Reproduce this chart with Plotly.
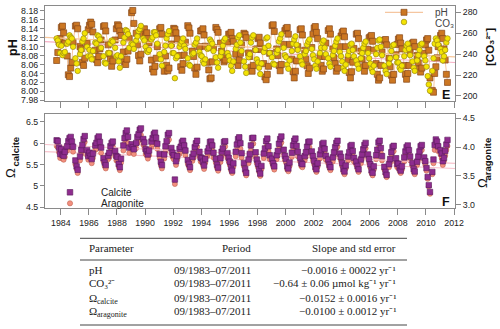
import datetime
import plotly.graph_objects as go

# ---------------------------------------------------------------- data
# cruise dates (roughly monthly sampling)
sample_dates = [
    "1983-09-15", "1983-10-15", "1983-11-15", "1983-12-15",
    "1984-01-15", "1984-02-15", "1984-03-15", "1984-04-15", "1984-06-15", "1984-07-15", "1984-08-15", "1984-09-15", "1984-10-15", "1984-11-15",
    "1985-01-15", "1985-02-15", "1985-03-15", "1985-05-15", "1985-06-15", "1985-07-15", "1985-08-15", "1985-09-15", "1985-11-15", "1985-12-15",
    "1986-01-15", "1986-02-15", "1986-03-15", "1986-04-15", "1986-06-15", "1986-07-15", "1986-08-15", "1986-09-15", "1986-10-15", "1986-11-15",
    "1987-01-15", "1987-02-15", "1987-03-15", "1987-05-15", "1987-06-15", "1987-07-15", "1987-08-15", "1987-09-15", "1987-11-15", "1987-12-15",
    "1988-01-15", "1988-02-15", "1988-03-15", "1988-04-15", "1988-06-15", "1988-07-15", "1988-08-15", "1988-09-15", "1988-10-15", "1988-11-15",
    "1989-01-15", "1989-02-15", "1989-03-15", "1989-05-15", "1989-06-15", "1989-07-15", "1989-08-15", "1989-09-15", "1989-11-15", "1989-12-15",
    "1990-01-15", "1990-02-15", "1990-03-15", "1990-04-15", "1990-06-15", "1990-07-15", "1990-08-15", "1990-09-15", "1990-10-15", "1990-11-15",
    "1991-01-15", "1991-02-15", "1991-03-15", "1991-05-15", "1991-06-15", "1991-07-15", "1991-08-15", "1991-09-15", "1991-11-15", "1991-12-15",
    "1992-01-15", "1992-02-15", "1992-03-15", "1992-04-15", "1992-06-15", "1992-07-15", "1992-08-15", "1992-09-15", "1992-10-15", "1992-11-15",
    "1993-01-15", "1993-02-15", "1993-03-15", "1993-05-15", "1993-06-15", "1993-07-15", "1993-08-15", "1993-09-15", "1993-11-15", "1993-12-15",
    "1994-01-15", "1994-02-15", "1994-03-15", "1994-04-15", "1994-06-15", "1994-07-15", "1994-08-15", "1994-09-15", "1994-10-15", "1994-11-15",
    "1995-01-15", "1995-02-15", "1995-03-15", "1995-05-15", "1995-06-15", "1995-07-15", "1995-08-15", "1995-09-15", "1995-11-15", "1995-12-15",
    "1996-01-15", "1996-02-15", "1996-03-15", "1996-04-15", "1996-06-15", "1996-07-15", "1996-08-15", "1996-09-15", "1996-10-15", "1996-11-15",
    "1997-01-15", "1997-02-15", "1997-03-15", "1997-05-15", "1997-06-15", "1997-07-15", "1997-08-15", "1997-09-15", "1997-11-15", "1997-12-15",
    "1998-01-15", "1998-02-15", "1998-03-15", "1998-04-15", "1998-06-15", "1998-07-15", "1998-08-15", "1998-09-15", "1998-10-15", "1998-11-15",
    "1999-01-15", "1999-02-15", "1999-03-15", "1999-05-15", "1999-06-15", "1999-07-15", "1999-08-15", "1999-09-15", "1999-11-15", "1999-12-15",
    "2000-01-15", "2000-02-15", "2000-03-15", "2000-04-15", "2000-06-15", "2000-07-15", "2000-08-15", "2000-09-15", "2000-10-15", "2000-11-15",
    "2001-01-15", "2001-02-15", "2001-03-15", "2001-05-15", "2001-06-15", "2001-07-15", "2001-08-15", "2001-09-15", "2001-11-15", "2001-12-15",
    "2002-01-15", "2002-02-15", "2002-03-15", "2002-04-15", "2002-06-15", "2002-07-15", "2002-08-15", "2002-09-15", "2002-10-15", "2002-11-15",
    "2003-01-15", "2003-02-15", "2003-03-15", "2003-05-15", "2003-06-15", "2003-07-15", "2003-08-15", "2003-09-15", "2003-11-15", "2003-12-15",
    "2004-01-15", "2004-02-15", "2004-03-15", "2004-04-15", "2004-06-15", "2004-07-15", "2004-08-15", "2004-09-15", "2004-10-15", "2004-11-15",
    "2005-01-15", "2005-02-15", "2005-03-15", "2005-05-15", "2005-06-15", "2005-07-15", "2005-08-15", "2005-09-15", "2005-11-15", "2005-12-15",
    "2006-01-15", "2006-02-15", "2006-03-15", "2006-04-15", "2006-06-15", "2006-07-15", "2006-08-15", "2006-09-15", "2006-10-15", "2006-11-15",
    "2007-01-15", "2007-02-15", "2007-03-15", "2007-05-15", "2007-06-15", "2007-07-15", "2007-08-15", "2007-09-15", "2007-11-15", "2007-12-15",
    "2008-01-15", "2008-02-15", "2008-03-15", "2008-04-15", "2008-06-15", "2008-07-15", "2008-08-15", "2008-09-15", "2008-10-15", "2008-11-15",
    "2009-01-15", "2009-02-15", "2009-03-15", "2009-05-15", "2009-06-15", "2009-07-15", "2009-08-15", "2009-09-15", "2009-11-15", "2009-12-15",
    "2010-01-15", "2010-02-15", "2010-03-15", "2010-04-15", "2010-06-15", "2010-07-15", "2010-08-15", "2010-09-15", "2010-10-15", "2010-11-15",
    "2011-01-15", "2011-02-15", "2011-03-15", "2011-04-15", "2011-05-15", "2011-06-15", "2011-07-15",
]

ph_values = [
    8.069, 8.087, 8.110, 8.118,
    8.143, 8.146, 8.131, 8.108, 8.079, 8.037, 8.033, 8.052, 8.065, 8.110,
    8.146, 8.148, 8.140, 8.100, 8.095, 8.065, 8.058, 8.074, 8.108, 8.138,
    8.148, 8.155, 8.150, 8.133, 8.092, 8.071, 8.064, 8.078, 8.095, 8.115,
    8.145, 8.147, 8.135, 8.104, 8.084, 8.072, 8.056, 8.068, 8.115, 8.140,
    8.149, 8.146, 8.135, 8.125, 8.088, 8.066, 8.060, 8.072, 8.090, 8.118,
    8.176, 8.181, 8.152, 8.130, 8.104, 8.080, 8.068, 8.083, 8.128, 8.140,
    8.124, 8.131, 8.118, 8.109, 8.070, 8.050, 8.043, 8.056, 8.074, 8.100,
    8.140, 8.143, 8.128, 8.045, 8.079, 8.058, 8.046, 8.052, 8.106, 8.130,
    8.141, 8.139, 8.131, 8.117, 8.080, 8.055, 8.047, 8.062, 8.081, 8.110,
    8.147, 8.142, 8.130, 8.090, 8.078, 8.052, 8.038, 8.054, 8.100, 8.135,
    8.136, 8.140, 8.126, 8.101, 8.065, 8.048, 8.028, 8.030, 8.066, 8.098,
    8.143, 8.138, 8.132, 8.108, 8.090, 8.075, 8.066, 8.070, 8.110, 8.128,
    8.128, 8.132, 8.118, 8.112, 8.083, 8.066, 8.058, 8.070, 8.085, 8.104,
    8.130, 8.127, 8.120, 8.086, 8.078, 8.054, 8.045, 8.058, 8.094, 8.095,
    8.118, 8.121, 8.108, 8.094, 8.062, 8.032, 8.026, 8.038, 8.056, 8.085,
    8.147, 8.149, 8.134, 8.095, 8.080, 8.058, 8.046, 8.060, 8.105, 8.136,
    8.141, 8.143, 8.128, 8.105, 8.072, 8.044, 8.030, 8.045, 8.068, 8.100,
    8.138, 8.140, 8.126, 8.092, 8.072, 8.057, 8.040, 8.052, 8.098, 8.128,
    8.142, 8.145, 8.132, 8.118, 8.078, 8.058, 8.045, 8.050, 8.078, 8.108,
    8.136, 8.140, 8.128, 8.095, 8.075, 8.062, 8.045, 8.052, 8.100, 8.124,
    8.132, 8.135, 8.122, 8.100, 8.070, 8.042, 8.030, 8.044, 8.065, 8.096,
    8.128, 8.130, 8.118, 8.090, 8.072, 8.055, 8.045, 8.058, 8.094, 8.120,
    8.122, 8.125, 8.112, 8.092, 8.062, 8.038, 8.025, 8.030, 8.058, 8.088,
    8.114, 8.116, 8.104, 8.074, 8.055, 8.036, 8.025, 8.038, 8.082, 8.105,
    8.117, 8.120, 8.108, 8.095, 8.058, 8.038, 8.027, 8.040, 8.058, 8.086,
    8.108, 8.110, 8.100, 8.080, 8.064, 8.050, 8.043, 8.052, 8.085, 8.104,
    8.115, 8.118, 8.092, 8.030, 8.002, 7.998, 8.040, 8.055, 8.075, 8.100,
    8.125, 8.130, 8.118, 8.095, 8.070, 8.038, 8.020,
]

co3_values = [
    255, 253, 249, 241,
    248, 239, 241, 242, 250, 252, 258, 256, 255, 247,
    236, 231, 224, 240, 244, 252, 255, 260, 247, 238,
    244, 238, 235, 243, 251, 250, 258, 257, 254, 246,
    238, 232, 231, 241, 241, 250, 253, 252, 246, 238,
    239, 233, 227, 238, 251, 256, 263, 262, 259, 246,
    250, 249, 245, 253, 257, 262, 264, 267, 255, 253,
    247, 243, 242, 244, 254, 256, 261, 261, 258, 250,
    240, 235, 229, 242, 248, 255, 259, 262, 248, 241,
    241, 217, 236, 238, 247, 250, 252, 255, 248, 245,
    236, 230, 229, 240, 241, 249, 251, 255, 242, 239,
    238, 233, 231, 235, 245, 246, 254, 252, 250, 243,
    237, 232, 227, 238, 242, 248, 253, 255, 241, 238,
    234, 229, 224, 233, 245, 249, 256, 258, 251, 243,
    233, 228, 222, 237, 240, 251, 256, 258, 244, 235,
    232, 227, 221, 231, 242, 246, 255, 256, 248, 241,
    237, 231, 230, 241, 244, 252, 255, 259, 246, 239,
    237, 230, 226, 234, 243, 250, 254, 257, 249, 244,
    238, 233, 230, 240, 243, 249, 252, 254, 245, 239,
    235, 229, 226, 233, 241, 246, 251, 253, 246, 240,
    236, 231, 228, 239, 243, 248, 252, 255, 242, 238,
    233, 227, 224, 230, 239, 243, 249, 250, 244, 238,
    234, 230, 226, 236, 241, 246, 250, 252, 241, 236,
    231, 226, 223, 229, 240, 246, 253, 254, 247, 239,
    229, 224, 221, 231, 236, 243, 248, 249, 237, 232,
    232, 227, 225, 229, 238, 244, 248, 250, 245, 239,
    233, 227, 224, 234, 239, 244, 249, 250, 238, 234,
    228, 219, 211, 205, 224, 236, 250, 255, 253, 249,
    245, 242, 234, 238, 244, 251, 255,
]

omega_calcite = [
    6.07, 6.05, 5.90, 5.75,
    5.86, 5.73, 5.71, 5.80, 5.93, 6.05, 6.12, 6.15, 6.04, 5.92,
    5.60, 5.46, 5.38, 5.69, 5.85, 5.96, 6.10, 6.17, 5.84, 5.70,
    5.78, 5.71, 5.63, 5.76, 5.95, 6.01, 6.12, 6.16, 6.03, 5.90,
    5.65, 5.55, 5.49, 5.71, 5.78, 5.93, 6.01, 6.04, 5.82, 5.70,
    5.68, 5.52, 5.44, 5.64, 5.95, 6.12, 6.24, 6.30, 6.15, 5.90,
    5.98, 5.91, 5.86, 6.01, 6.15, 6.21, 6.32, 6.35, 6.10, 6.02,
    5.86, 5.81, 5.74, 5.83, 6.04, 6.12, 6.21, 6.25, 6.13, 5.99,
    5.75, 5.57, 5.49, 5.74, 5.93, 6.05, 6.20, 6.24, 5.89, 5.78,
    5.72, 5.15, 5.58, 5.70, 5.87, 5.92, 6.02, 6.06, 5.95, 5.83,
    5.61, 5.52, 5.44, 5.68, 5.76, 5.91, 6.00, 6.06, 5.80, 5.67,
    5.65, 5.57, 5.48, 5.63, 5.81, 5.89, 6.03, 6.04, 5.95, 5.78,
    5.64, 5.50, 5.43, 5.65, 5.80, 5.88, 6.03, 6.05, 5.77, 5.66,
    5.57, 5.44, 5.36, 5.53, 5.80, 5.97, 6.10, 6.14, 6.00, 5.77,
    5.54, 5.40, 5.31, 5.62, 5.75, 5.95, 6.12, 6.13, 5.79, 5.62,
    5.52, 5.39, 5.29, 5.47, 5.76, 5.88, 6.05, 6.11, 5.93, 5.72,
    5.64, 5.53, 5.46, 5.72, 5.82, 5.99, 6.10, 6.16, 5.85, 5.71,
    5.63, 5.46, 5.41, 5.55, 5.78, 5.95, 6.06, 6.11, 5.94, 5.80,
    5.66, 5.54, 5.51, 5.70, 5.79, 5.92, 6.03, 6.04, 5.81, 5.70,
    5.59, 5.45, 5.39, 5.53, 5.74, 5.84, 5.98, 6.01, 5.87, 5.71,
    5.62, 5.50, 5.44, 5.67, 5.79, 5.91, 6.01, 6.06, 5.76, 5.68,
    5.54, 5.40, 5.34, 5.48, 5.69, 5.79, 5.93, 5.96, 5.82, 5.66,
    5.57, 5.47, 5.39, 5.62, 5.74, 5.86, 5.96, 6.01, 5.74, 5.63,
    5.51, 5.37, 5.31, 5.46, 5.72, 5.85, 6.02, 6.06, 5.89, 5.70,
    5.45, 5.33, 5.26, 5.51, 5.63, 5.79, 5.91, 5.94, 5.65, 5.52,
    5.52, 5.42, 5.36, 5.46, 5.67, 5.81, 5.91, 5.95, 5.84, 5.69,
    5.54, 5.40, 5.34, 5.57, 5.69, 5.81, 5.93, 5.96, 5.67, 5.58,
    5.42, 5.21, 5.02, 4.86, 5.33, 5.62, 5.96, 6.09, 6.04, 5.93,
    5.84, 5.76, 5.58, 5.66, 5.82, 5.97, 6.08,
]

omega_aragonite = [
    4.02, 4.00, 3.91, 3.81,
    3.87, 3.80, 3.78, 3.83, 3.94, 4.00, 4.04, 4.08, 3.99, 3.92,
    3.70, 3.62, 3.55, 3.77, 3.88, 3.94, 4.04, 4.09, 3.86, 3.78,
    3.82, 3.79, 3.72, 3.81, 3.95, 3.97, 4.06, 4.07, 4.00, 3.90,
    3.75, 3.67, 3.63, 3.79, 3.82, 3.93, 3.98, 4.01, 3.85, 3.77,
    3.76, 3.66, 3.60, 3.73, 3.94, 4.06, 4.13, 4.16, 4.07, 3.90,
    3.96, 3.91, 3.88, 3.98, 4.07, 4.11, 4.18, 4.21, 4.04, 3.98,
    3.88, 3.85, 3.80, 3.86, 4.00, 4.05, 4.11, 4.14, 4.06, 3.97,
    3.81, 3.69, 3.63, 3.80, 3.93, 4.00, 4.10, 4.13, 3.90, 3.83,
    3.79, 3.36, 3.69, 3.78, 3.88, 3.92, 3.99, 4.01, 3.94, 3.86,
    3.71, 3.66, 3.60, 3.76, 3.81, 3.91, 3.97, 4.01, 3.84, 3.75,
    3.74, 3.69, 3.62, 3.73, 3.85, 3.90, 3.99, 4.00, 3.94, 3.82,
    3.73, 3.64, 3.59, 3.74, 3.84, 3.89, 3.99, 4.01, 3.82, 3.75,
    3.69, 3.60, 3.55, 3.66, 3.84, 3.95, 4.04, 4.06, 3.97, 3.82,
    3.67, 3.57, 3.51, 3.72, 3.81, 3.94, 4.05, 4.06, 3.83, 3.72,
    3.65, 3.57, 3.50, 3.62, 3.81, 3.89, 4.00, 4.04, 3.93, 3.79,
    3.73, 3.66, 3.61, 3.79, 3.85, 3.97, 4.04, 4.08, 3.87, 3.78,
    3.73, 3.61, 3.58, 3.67, 3.83, 3.94, 4.01, 4.04, 3.93, 3.84,
    3.75, 3.67, 3.65, 3.77, 3.83, 3.92, 3.99, 4.00, 3.85, 3.77,
    3.70, 3.61, 3.57, 3.66, 3.80, 3.87, 3.96, 3.98, 3.89, 3.78,
    3.72, 3.64, 3.60, 3.75, 3.83, 3.91, 3.98, 4.01, 3.81, 3.76,
    3.67, 3.57, 3.53, 3.63, 3.77, 3.83, 3.93, 3.95, 3.85, 3.75,
    3.69, 3.62, 3.57, 3.72, 3.80, 3.88, 3.95, 3.98, 3.80, 3.73,
    3.65, 3.55, 3.51, 3.61, 3.79, 3.87, 3.98, 4.01, 3.90, 3.77,
    3.61, 3.53, 3.48, 3.65, 3.73, 3.83, 3.91, 3.93, 3.74, 3.65,
    3.65, 3.59, 3.55, 3.61, 3.75, 3.85, 3.91, 3.94, 3.87, 3.77,
    3.67, 3.57, 3.53, 3.69, 3.77, 3.85, 3.93, 3.95, 3.75, 3.69,
    3.59, 3.45, 3.32, 3.19, 3.53, 3.72, 3.95, 4.03, 4.00, 3.93,
    3.87, 3.81, 3.69, 3.75, 3.85, 3.95, 4.02,
]

# linear trends: value at the start of 1983 and slope per year (slopes as in the table)
trend_start_year = 1983.0
trend_end_year = 2012.07
trend_intercepts = {"pH": 8.111, "CO3": 256.0, "calcite": 5.97, "aragonite": 3.92}
trend_slopes = {"pH": -0.0016, "CO3": -0.64, "calcite": -0.0152, "aragonite": -0.0100}

# summary table
table_header = ["Parameter", "Period", "Slope and std error"]
table_params = ["pH", "CO₃²⁻", ("Ω", "calcite"), ("Ω", "aragonite")]
table_periods = ["09/1983–07/2011"] * 4
table_slopes = [
    "−0.0016 ± 00022 yr⁻¹",
    "−0.64 ± 0.06 µmol kg⁻¹ yr⁻¹",
    "−0.0152 ± 0.0016 yr⁻¹",
    "−0.0100 ± 0.0012 yr⁻¹",
]

# ---------------------------------------------------------------- layout helpers
W, H = 500, 329
ML, MR, MT, MB = 45, 45, 6, 121
PW, PH = W - ML - MR, H - MT - MB


def px(x):
    return (x - ML) / PW


def py(y):
    return (H - MB - y) / PH


def year_to_date(yr):
    y = int(yr)
    day = int(round((yr - y) * 365))
    return (datetime.date(y, 1, 1) + datetime.timedelta(days=day)).isoformat()


def trend(name):
    xs = [trend_start_year - 0.2, trend_end_year]
    ys = [trend_intercepts[name] + trend_slopes[name] * (x - trend_start_year) for x in xs]
    return [year_to_date(x) for x in xs], ys


SANS = "Liberation Sans, Arial, sans-serif"
SERIF = "Liberation Serif, Times New Roman, serif"
AXIS_GREY = "#8a8a8a"

fig = go.Figure()

# ---- top panel: pH (left) and carbonate ion (right)
tx, ty = trend("pH")
fig.add_trace(go.Scatter(x=tx, y=ty, mode="lines", line=dict(color="#f6aec4", width=1.2),
                         xaxis="x", yaxis="y", hoverinfo="skip"))
fig.add_trace(go.Scatter(x=sample_dates, y=ph_values, mode="lines+markers", name="pH",
                         line=dict(color="#f3b889", width=0.8),
                         marker=dict(symbol="square", size=6, color="#cc7722",
                                     line=dict(color="#86471a", width=0.7)),
                         xaxis="x", yaxis="y"))
tx, ty = trend("CO3")
fig.add_trace(go.Scatter(x=tx, y=ty, mode="lines", line=dict(color="#f7c79a", width=1.2),
                         xaxis="x", yaxis="y2", hoverinfo="skip"))
fig.add_trace(go.Scatter(x=sample_dates, y=co3_values, mode="markers", name="CO3",
                         marker=dict(symbol="circle", size=5.5, color="#f3e304",
                                     line=dict(color="#9a8a10", width=0.7)),
                         xaxis="x", yaxis="y2"))

# ---- bottom panel: aragonite (right, base axis) and calcite (left, overlay)
tx, ty = trend("aragonite")
fig.add_trace(go.Scatter(x=tx, y=ty, mode="lines", line=dict(color="#f8c2cc", width=1.2),
                         xaxis="x2", yaxis="y3", hoverinfo="skip"))
fig.add_trace(go.Scatter(x=sample_dates, y=omega_aragonite, mode="markers", name="Aragonite",
                         marker=dict(symbol="circle", size=5, color="#f28f7f",
                                     line=dict(color="#c0614f", width=0.6)),
                         xaxis="x2", yaxis="y3"))
tx, ty = trend("calcite")
fig.add_trace(go.Scatter(x=tx, y=ty, mode="lines", line=dict(color="#f8c2cc", width=1.2),
                         xaxis="x2", yaxis="y4", hoverinfo="skip"))
fig.add_trace(go.Scatter(x=sample_dates, y=omega_calcite, mode="markers", name="Calcite",
                         marker=dict(symbol="square", size=5.5, color="#8e2c8e",
                                     line=dict(color="#5a1a5a", width=0.6)),
                         xaxis="x2", yaxis="y4"))

tickfont = dict(family=SANS, size=8.8, color="#222")
common = dict(showline=True, linecolor=AXIS_GREY, linewidth=1, ticks="outside",
              tickcolor=AXIS_GREY, tickwidth=1, tickfont=tickfont,
              showgrid=False, zeroline=False, fixedrange=True)
xrange = ["1982-11-16", "2012-01-26"]
top_dom = [py(100.7), 1.0]
bot_dom = [0.0, py(114.3)]

fig.update_layout(
    width=W, height=H,
    margin=dict(l=ML, r=MR, t=MT, b=MB),
    paper_bgcolor="white", plot_bgcolor="white",
    showlegend=False,
    font=dict(family=SANS, size=10, color="#222"),
    xaxis=dict(common, domain=[0, 1], anchor="y", type="date", range=xrange,
               dtick="M24", tick0="1984-01-01", ticklen=6, showticklabels=False, mirror=True),
    xaxis2=dict(common, domain=[0, 1], anchor="y3", type="date", range=xrange,
                dtick="M24", tick0="1984-01-01", ticklen=6, tickformat="%Y", mirror=True),
    yaxis=dict(common, domain=top_dom, anchor="x", range=[7.979, 8.191],
               dtick=0.02, tick0=7.98, tickformat=".2f", ticklen=4),
    yaxis2=dict(common, overlaying="y", side="right", anchor="x", range=[195.5, 286],
                dtick=20, tick0=200, ticklen=5),
    yaxis3=dict(common, domain=bot_dom, side="right", anchor="x2", range=[2.945, 4.569],
                dtick=0.5, tick0=3.0, tickformat=".1f", ticklen=5),
    yaxis4=dict(common, overlaying="y3", side="left", anchor="x2", range=[4.484, 6.68],
                tickvals=[4.5, 5, 5.5, 6, 6.5], ticktext=["4.5", "5", "5.5", "6", "6.5"], ticklen=4),
)

ann = []


def text(x, y, s, size=10, color="#222", family=SANS, xanchor="center", yanchor="middle", angle=0):
    ann.append(dict(x=px(x), y=py(y), xref="paper", yref="paper", text=s, showarrow=False,
                    xanchor=xanchor, yanchor=yanchor, textangle=angle,
                    font=dict(family=family, size=size, color=color)))


# axis titles (the Ω subscripts are set as separate, smaller labels)
text(13, 48, "<b>pH</b>", size=12.5, color="#111", angle=-90)
text(490, 47, "<b>[CO₃²⁻]</b>", size=11.5, color="#111", angle=-90)
text(10, 173, "Ω", size=13, color="#111", angle=-90)
text(14.5, 152, "<b>calcite</b>", size=9.5, color="#111", angle=-90)
text(482, 183, "Ω", size=13, color="#111", angle=-90)
text(486.5, 159, "<b>aragonite</b>", size=9.5, color="#111", angle=-90)
# panel letters
text(446, 95, "<b>E</b>", size=12.5, color="#111")
text(446, 202, "<b>F</b>", size=12.5, color="#111")

# legend text
text(433, 12.5, "pH", size=10, color="#444", xanchor="left")
text(433, 23.5, "CO₃", size=10, color="#444", xanchor="left")
text(99, 192.5, "Calcite", size=10, color="#222", xanchor="left")
text(99, 203.5, "Aragonite", size=10, color="#222", xanchor="left")

# table
hy = 248.3
text(86.7, hy, table_header[0], size=11, family=SERIF, xanchor="left")
text(253, hy, table_header[1], size=11, family=SERIF, xanchor="right")
text(397.7, hy, table_header[2], size=11, family=SERIF, xanchor="right")
row_y = [270, 283.3, 298, 311.3]
for i, ry in enumerate(row_y):
    param = table_params[i]
    if isinstance(param, tuple):
        text(86.7, ry, param[0], size=11, family=SERIF, xanchor="left")
        text(94.5, ry + 3.2, param[1], size=8, family=SERIF, xanchor="left")
    else:
        text(86.7, ry, param, size=11, family=SERIF, xanchor="left")
    text(253, ry, table_periods[i], size=11, family=SERIF, xanchor="right")
    text(397.7, ry, table_slopes[i], size=11, family=SERIF, xanchor="right")

fig.update_layout(annotations=ann)

shapes = []


def hline(x0, x1, y, color="#444", width=1):
    shapes.append(dict(type="line", xref="paper", yref="paper", x0=px(x0), x1=px(x1),
                       y0=py(y), y1=py(y), line=dict(color=color, width=width)))


hline(80, 407, 238.3)
hline(80, 407, 260)
hline(80, 407, 325)

# legend keys
hline(385, 423, 12.3, color="#f3b889", width=1)
shapes.append(dict(type="rect", xref="paper", yref="paper", x0=px(401), x1=px(407), y0=py(15.3), y1=py(9.3),
                   fillcolor="#cc7722", line=dict(color="#86471a", width=0.7)))
shapes.append(dict(type="circle", xref="paper", yref="paper", x0=px(401.2), x1=px(406.8), y0=py(24.8), y1=py(19.2),
                   fillcolor="#f3e304", line=dict(color="#9a8a10", width=0.7)))
shapes.append(dict(type="rect", xref="paper", yref="paper", x0=px(67.2), x1=px(72.8), y0=py(195.1), y1=py(189.5),
                   fillcolor="#8e2c8e", line=dict(color="#5a1a5a", width=0.6)))
shapes.append(dict(type="circle", xref="paper", yref="paper", x0=px(67.4), x1=px(72.6), y0=py(205.9), y1=py(200.7),
                   fillcolor="#f28f7f", line=dict(color="#c0614f", width=0.6)))
fig.update_layout(shapes=shapes)

fig.write_html("out.html")
